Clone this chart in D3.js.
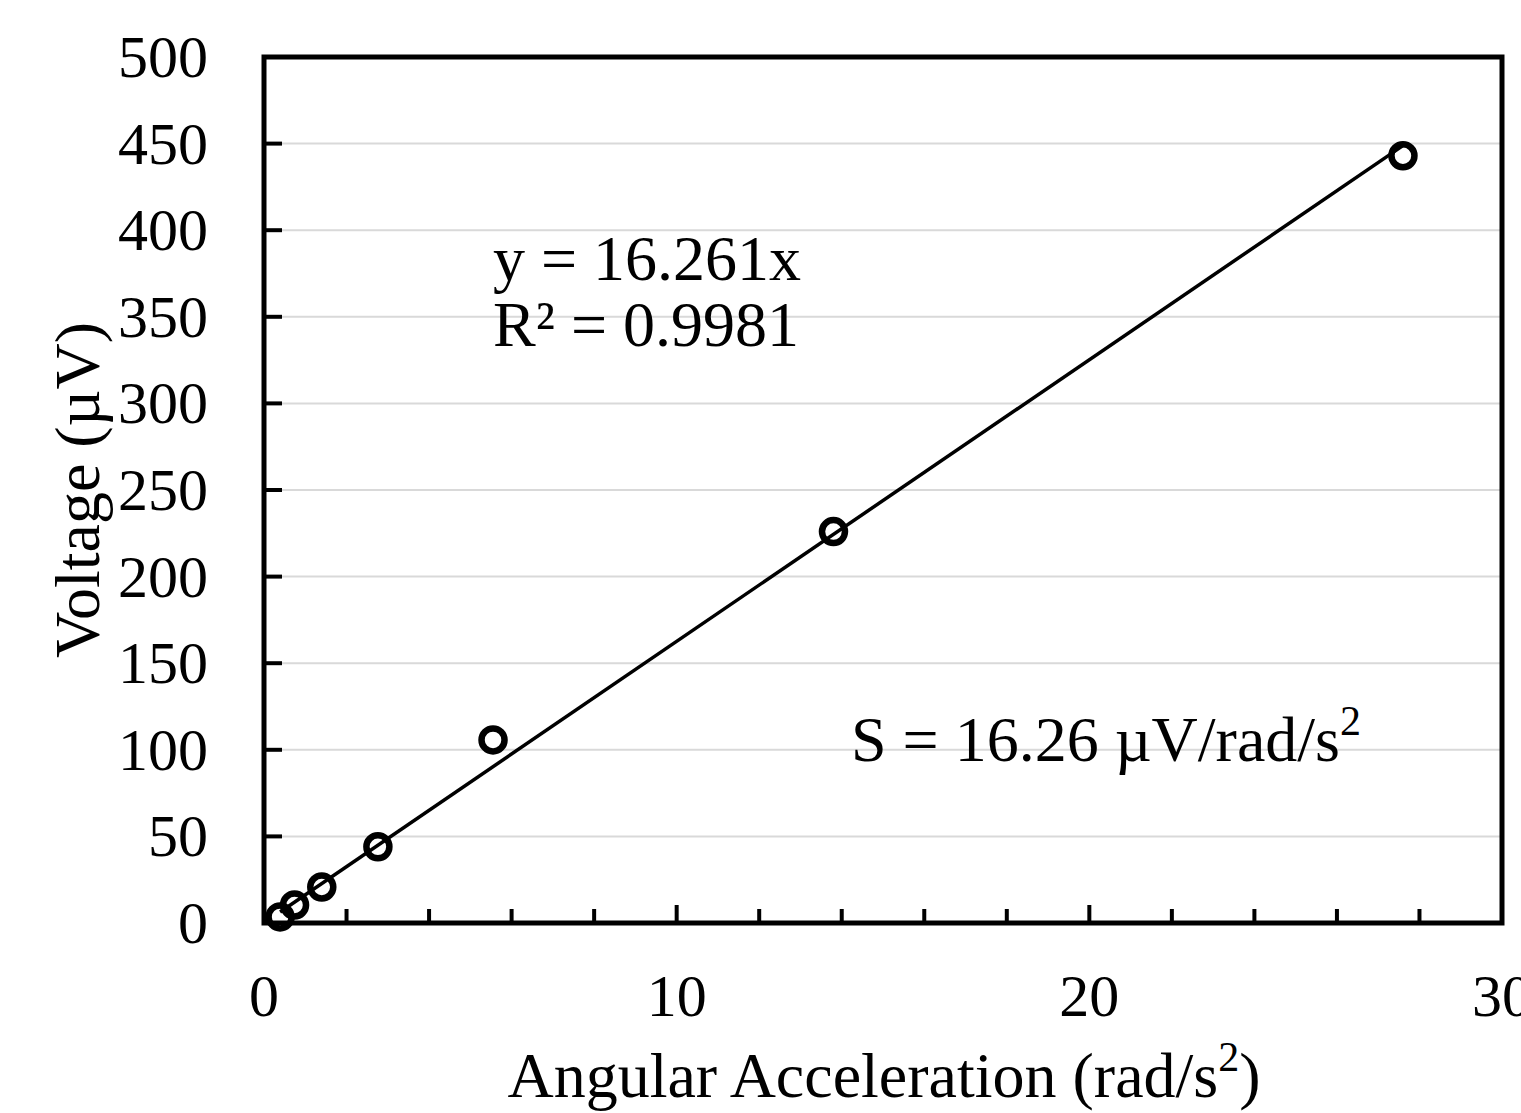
<!DOCTYPE html>
<html>
<head>
<meta charset="utf-8">
<script src="https://cdn.jsdelivr.net/npm/d3@7"></script>
<style>
  body { margin: 0; background: #fff; }
  svg { display: block; font-family: "Liberation Serif", "Times New Roman", serif; }
</style>
</head>
<body>
<svg width="1521" height="1113"></svg>
<script>
// data
const accel = [0.39, 0.74, 1.4, 2.76, 5.55, 13.8, 27.6];
const voltage = [3.5, 10.4, 20.8, 44, 105.7, 226, 443];
const slope = 16.261;
const xTicks = [0, 10, 20, 30];
const yTicks = [0, 50, 100, 150, 200, 250, 300, 350, 400, 450, 500];

const svg = d3.select("svg");
const plotL = 264, plotR = 1502, plotT = 57, plotB = 923;

const x = d3.scaleLinear().domain([0, 30]).range([plotL, plotR]);
const y = d3.scaleLinear().domain([0, 500]).range([plotB, plotT]);

// gridlines
svg.append("g")
  .selectAll("line")
  .data(yTicks.slice(1, -1))
  .enter()
  .append("line")
  .attr("x1", plotL).attr("x2", plotR)
  .attr("y1", d => y(d)).attr("y2", d => y(d))
  .attr("stroke", "#d9d9d9")
  .attr("stroke-width", 2);

// x minor/major ticks (inward)
svg.append("g")
  .selectAll("line")
  .data(d3.range(2, 30, 2))
  .enter()
  .append("line")
  .attr("x1", d => x(d)).attr("x2", d => x(d))
  .attr("y1", plotB)
  .attr("y2", d => plotB - (d % 10 === 0 ? 18 : 14))
  .attr("stroke", "#000")
  .attr("stroke-width", 4);

// y ticks (inward)
svg.append("g")
  .selectAll("line")
  .data(yTicks.slice(1, -1))
  .enter()
  .append("line")
  .attr("x1", plotL).attr("x2", plotL + 18)
  .attr("y1", d => y(d)).attr("y2", d => y(d))
  .attr("stroke", "#000")
  .attr("stroke-width", 4);

// frame
svg.append("rect")
  .attr("x", plotL).attr("y", plotT)
  .attr("width", plotR - plotL).attr("height", plotB - plotT)
  .attr("fill", "none")
  .attr("stroke", "#000")
  .attr("stroke-width", 5);

// tick labels
svg.append("g")
  .selectAll("text")
  .data(yTicks)
  .enter()
  .append("text")
  .attr("x", 208)
  .attr("y", d => y(d) + 20)
  .attr("text-anchor", "end")
  .attr("font-size", 60)
  .text(d => d);

svg.append("g")
  .selectAll("text")
  .data(xTicks)
  .enter()
  .append("text")
  .attr("x", d => x(d))
  .attr("y", 1016)
  .attr("text-anchor", "middle")
  .attr("font-size", 60)
  .text(d => d);

// trendline
const x0 = d3.min(accel), x1 = d3.max(accel);
svg.append("line")
  .attr("x1", x(x0)).attr("y1", y(slope * x0))
  .attr("x2", x(x1)).attr("y2", y(slope * x1))
  .attr("stroke", "#000")
  .attr("stroke-width", 3.5);

// points
svg.append("g")
  .selectAll("circle")
  .data(accel.map((a, i) => [a, voltage[i]]))
  .enter()
  .append("circle")
  .attr("cx", d => x(d[0]))
  .attr("cy", d => y(d[1]))
  .attr("r", 11.5)
  .attr("fill", "none")
  .attr("stroke", "#000")
  .attr("stroke-width", 6.5);

// annotations
svg.append("text").attr("x", 493).attr("y", 280).attr("font-size", 64).text("y = 16.261x");
svg.append("text").attr("x", 493).attr("y", 346).attr("font-size", 64).text("R² = 0.9981");

const s = svg.append("text").attr("x", 851).attr("y", 761).attr("font-size", 64);
s.append("tspan").text("S = 16.26 µV/rad/s");
s.append("tspan").attr("font-size", 42).attr("dy", -26).text("2");

// axis titles
const xt = svg.append("text")
  .attr("x", 884).attr("y", 1097)
  .attr("text-anchor", "middle")
  .attr("font-size", 64);
xt.append("tspan").text("Angular Acceleration (rad/s");
xt.append("tspan").attr("font-size", 42).attr("dy", -26).text("2");
xt.append("tspan").attr("dy", 26).text(")");

svg.append("text")
  .attr("transform", "translate(99,490) rotate(-90)")
  .attr("text-anchor", "middle")
  .attr("font-size", 64)
  .text("Voltage (µV)");
</script>
</body>
</html>
